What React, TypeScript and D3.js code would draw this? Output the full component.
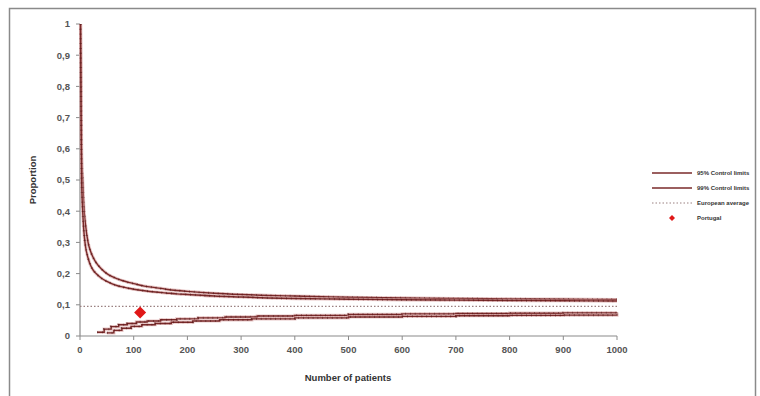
import React from "react";
import * as d3 from "d3";

const upperN = [1, 2, 3, 5, 7, 10, 15, 20, 25, 30, 40, 50, 60, 70, 80, 90, 100, 120, 140, 160, 180, 200, 250, 300, 350, 400, 450, 500, 600, 700, 800, 900, 1000];
const upper99 = [1, 0.83, 0.6, 0.5, 0.42, 0.36, 0.3, 0.27, 0.25, 0.235, 0.215, 0.2, 0.19, 0.183, 0.177, 0.172, 0.168, 0.16, 0.155, 0.15, 0.146, 0.143, 0.137, 0.133, 0.13, 0.128, 0.126, 0.124, 0.122, 0.12, 0.119, 0.118, 0.117];
const upper95 = [1, 0.7, 0.5, 0.4, 0.34, 0.29, 0.25, 0.225, 0.21, 0.2, 0.185, 0.175, 0.167, 0.161, 0.157, 0.153, 0.15, 0.145, 0.141, 0.138, 0.135, 0.133, 0.128, 0.125, 0.122, 0.12, 0.119, 0.118, 0.116, 0.115, 0.114, 0.113, 0.112];

const lower95N = [32, 45, 58, 72, 88, 105, 125, 150, 180, 220, 270, 330, 400, 500, 600, 700, 800, 900, 1000];
const lower95 = [0.012, 0.022, 0.03, 0.036, 0.04, 0.045, 0.048, 0.052, 0.055, 0.058, 0.061, 0.064, 0.066, 0.069, 0.071, 0.072, 0.073, 0.074, 0.075];
const lower99N = [50, 63, 78, 95, 115, 140, 170, 210, 260, 320, 400, 500, 600, 700, 800, 900, 1000];
const lower99 = [0.01, 0.018, 0.025, 0.031, 0.036, 0.04, 0.044, 0.048, 0.052, 0.055, 0.058, 0.061, 0.063, 0.065, 0.066, 0.067, 0.069];

const europeanAverage = 0.095;
const portugalN = 112;
const portugalValue = 0.075;

const yTicks = [0, 0.1, 0.2, 0.3, 0.4, 0.5, 0.6, 0.7, 0.8, 0.9, 1];
const xTicks = [0, 100, 200, 300, 400, 500, 600, 700, 800, 900, 1000];
const legendLabels = ["95% Control limits", "99% Control limits", "European average", "Portugal"];

const LINE = "#7a2a2a";
const HALO = "#d8a4a4";
const FONT = "'Liberation Sans', Arial, sans-serif";

export default function App() {
  const x = d3.scaleLinear().domain([0, 1000]).range([80, 617]);
  const y = d3.scaleLinear().domain([0, 1]).range([336, 24]);
  const fmt = (v: number) => (v === 0 ? "0" : v === 1 ? "1" : String(v).replace(".", ","));

  const smooth = d3.line<[number, number]>().x((d) => x(d[0])).y((d) => y(d[1])).curve(d3.curveMonotoneX);
  const step = d3.line<[number, number]>().x((d) => x(d[0])).y((d) => y(d[1])).curve(d3.curveStepAfter);

  const paths = [
    smooth(upperN.map((n, i) => [n, upper99[i]] as [number, number])),
    smooth(upperN.map((n, i) => [n, upper95[i]] as [number, number])),
    step(lower95N.map((n, i) => [n, lower95[i]] as [number, number])),
    step(lower99N.map((n, i) => [n, lower99[i]] as [number, number])),
  ];

  const diamond = (cx: number, cy: number, r: number) =>
    `M${cx},${cy - r}L${cx + r},${cy}L${cx},${cy + r}L${cx - r},${cy}Z`;

  return (
    <svg width={760} height={396} style={{ position: "absolute", left: 0, top: 0, background: "#fff" }} fontFamily={FONT}>
      <rect x={9.5} y={8.5} width={746} height={400} fill="none" stroke="#8a8a8a" strokeWidth={1.5} />
      <line x1={x(0)} x2={x(0)} y1={y(1)} y2={y(0)} stroke="#8a8a8a" strokeWidth={1.2} />
      <line x1={x(0)} x2={x(1000)} y1={y(0)} y2={y(0)} stroke="#8a8a8a" strokeWidth={1.2} />
      {yTicks.map((t) => (
        <g key={"y" + t}>
          <line x1={x(0) - 4} x2={x(0)} y1={y(t)} y2={y(t)} stroke="#8a8a8a" />
          <text x={x(0) - 10} y={y(t)} dy="0.35em" textAnchor="end" fontSize={9.5} fontWeight="bold" fill="#555">
            {fmt(t)}
          </text>
        </g>
      ))}
      {xTicks.map((t) => (
        <g key={"x" + t}>
          <line x1={x(t)} x2={x(t)} y1={y(0)} y2={y(0) + 4} stroke="#8a8a8a" />
          <text x={x(t)} y={y(0) + 17} textAnchor="middle" fontSize={9.5} fontWeight="bold" fill="#555">
            {t}
          </text>
        </g>
      ))}
      <text x={348} y={381} textAnchor="middle" fontSize={9.5} fontWeight="bold" fill="#333">
        Number of patients
      </text>
      <text transform={`translate(36,${y(0.5)}) rotate(-90)`} textAnchor="middle" fontSize={9.5} fontWeight="bold" fill="#333">
        Proportion
      </text>
      <line x1={x(0)} x2={x(1000)} y1={y(europeanAverage)} y2={y(europeanAverage)} stroke="#9a8080" strokeWidth={1.2} strokeDasharray="1.5 2" />
      {paths.map((p, i) => (
        <g key={"p" + i}>
          <path d={p || ""} fill="none" stroke={HALO} strokeWidth={3.2} strokeOpacity={0.6} />
          <path d={p || ""} fill="none" stroke={LINE} strokeWidth={1.4} />
          <path d={p || ""} fill="none" stroke="#4a1414" strokeWidth={2.2} strokeDasharray="0.8 4" strokeOpacity={0.6} />
        </g>
      ))}
      <path d={diamond(x(portugalN), y(portugalValue), 6)} fill="#e01818" />
      {legendLabels.map((lab, i) => {
        const ly = 173 + i * 15;
        return (
          <g key={lab}>
            {i < 2 && <line x1={652} x2={692} y1={ly} y2={ly} stroke={LINE} strokeWidth={1.4} />}
            {i === 2 && <line x1={652} x2={692} y1={ly} y2={ly} stroke="#9a8080" strokeWidth={1} strokeDasharray="1.5 2" />}
            {i === 3 && <path d={diamond(672, ly, 3)} fill="#e01818" />}
            <text x={697} y={ly} dy="0.35em" fontSize={6} fontWeight="bold" fill="#333">
              {lab}
            </text>
          </g>
        );
      })}
    </svg>
  );
}
